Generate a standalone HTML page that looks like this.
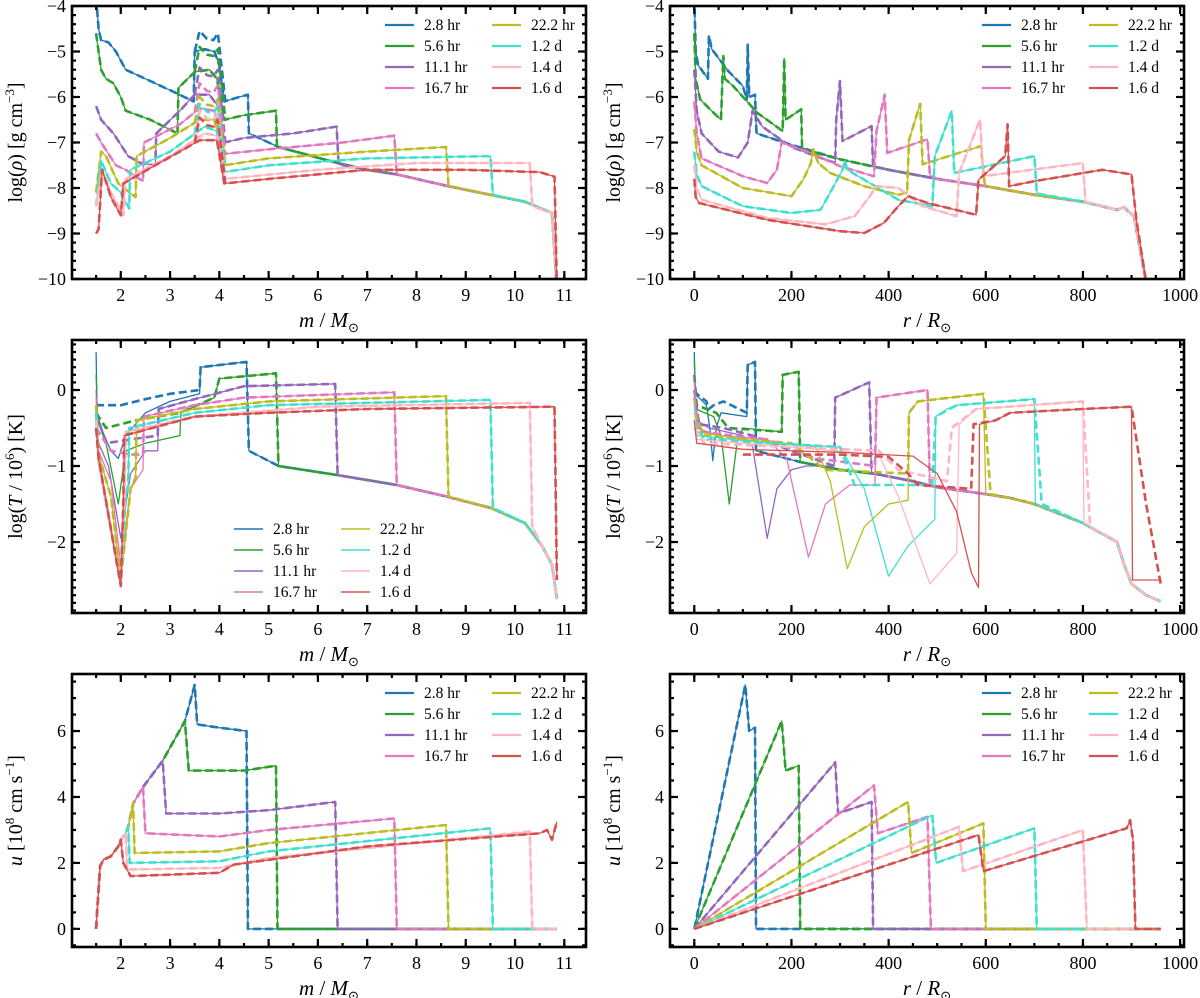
<!DOCTYPE html>
<html><head><meta charset="utf-8"><style>
html,body{margin:0;padding:0;background:#fff;}
svg{display:block;font-family:"Liberation Serif",serif;}
</style></head><body>
<svg id="fig" width="1200" height="998" viewBox="0 0 1200 998" xmlns="http://www.w3.org/2000/svg"></svg>
<script>
// ---------- data ----------
const seriesLabels = ["2.8 hr","5.6 hr","11.1 hr","16.7 hr","22.2 hr","1.2 d","1.4 d","1.6 d"];
const seriesColors = ["#1f77b4","#2ca02c","#9467bd","#e377c2","#bcbd22","#40e0d0","#ffb6c1","#d65050"];

// Panel A: log rho vs m
const envA = [[4.6,-6.8],[5.2,-7.1],[6.4,-7.45],[7.0,-7.6],[7.6,-7.7],[8.6,-7.95],[9.5,-8.15],[10.2,-8.3],[10.75,-8.55],[10.85,-10.2]];
const rhoM = [
 [[1.5,-3.8],[1.55,-4.5],[1.6,-4.75],[1.75,-4.8],[1.9,-5.0],[2.1,-5.4],[2.5,-5.6],[3.0,-5.85],[3.48,-6.1],[3.5,-5.0],[3.7,-4.95],[3.9,-5.0],[4.0,-5.3],[4.1,-6.1],[4.4,-6.0],[4.58,-5.95],[4.6,-6.8]],
 [[1.5,-4.6],[1.55,-5.0],[1.6,-5.4],[1.7,-5.6],[1.85,-5.7],[2.0,-6.0],[2.1,-6.3],[2.6,-6.5],[3.15,-6.8],[3.17,-5.8],[3.5,-5.45],[3.8,-5.4],[3.95,-5.6],[4.1,-6.5],[4.5,-6.4],[5.15,-6.3],[5.17,-7.12]],
 [[1.5,-6.2],[1.6,-6.5],[1.85,-6.8],[2.15,-7.3],[2.4,-7.45],[2.7,-7.5],[2.72,-6.8],[3.2,-6.3],[3.5,-5.95],[3.8,-5.95],[3.97,-6.2],[4.1,-7.0],[4.5,-6.9],[5.5,-6.8],[6.38,-6.65],[6.42,-7.48]],
 [[1.5,-6.8],[1.6,-7.0],[1.9,-7.5],[2.1,-7.6],[2.45,-7.85],[2.47,-7.0],[3.2,-6.6],[3.6,-6.25],[3.9,-6.3],[4.1,-7.25],[5,-7.15],[6.5,-7.0],[7.55,-6.85],[7.6,-7.7]],
 [[1.5,-8.1],[1.6,-7.2],[1.7,-7.3],[1.95,-7.9],[2.3,-8.2],[2.32,-7.3],[3.0,-6.9],[3.6,-6.5],[3.9,-6.5],[4.1,-7.5],[5,-7.35],[7,-7.2],[8.6,-7.1],[8.65,-7.95]],
 [[1.5,-8.4],[1.6,-7.4],[1.8,-7.9],[2.0,-8.1],[2.17,-8.45],[2.19,-7.6],[3,-7.2],[3.7,-6.65],[3.95,-6.75],[4.1,-7.65],[5,-7.5],[7,-7.35],[9.5,-7.3],[9.55,-8.15]],
 [[1.5,-8.4],[1.62,-7.6],[1.8,-8.1],[2.05,-8.6],[2.1,-7.8],[3,-7.3],[3.7,-6.8],[3.95,-6.85],[4.1,-7.8],[6,-7.6],[8,-7.45],[10.3,-7.45],[10.35,-8.4]],
 [[1.5,-9.0],[1.55,-8.9],[1.62,-7.6],[1.8,-8.2],[2.0,-8.6],[2.05,-7.9],[2.7,-7.5],[3.2,-7.2],[3.6,-6.95],[3.95,-6.95],[4.1,-7.9],[5,-7.8],[7,-7.6],[9,-7.6],[10.5,-7.65],[10.8,-7.75],[10.85,-10.2]]
];
const rhoMDashPeak = [-4.75,-5.1,-5.55,-5.9,-6.2,-6.35,-6.5,-6.65];

// Panel B: log rho vs r
const envB = [[128,-6.8],[200,-7.05],[300,-7.37],[400,-7.6],[500,-7.8],[600,-7.96],[700,-8.15],[800,-8.3],[870,-8.48],[885,-8.42],[892,-8.5],[905,-8.62],[932,-10.2]];
const rhoR = [
 [[0,-3.8],[3,-5.0],[8,-5.3],[28,-5.6],[30,-4.65],[36,-4.95],[70,-5.43],[100,-5.76],[108,-6.05],[110,-4.85],[113,-6.0],[125,-5.95],[128,-6.8]],
 [[0,-4.6],[3,-5.6],[12,-6.05],[40,-6.35],[55,-6.5],[58,-5.55],[60,-5.1],[63,-5.6],[80,-5.76],[130,-6.35],[182,-6.75],[185,-5.15],[188,-6.5],[220,-6.27],[222,-7.15]],
 [[0,-5.4],[5,-6.3],[15,-6.8],[50,-7.2],[90,-7.33],[110,-7.0],[120,-6.3],[140,-6.65],[200,-7.1],[250,-7.3],[290,-7.45],[292,-6.5],[300,-5.65],[305,-6.97],[365,-6.64],[368,-7.52]],
 [[0,-6.1],[5,-6.8],[15,-7.35],[100,-7.74],[150,-7.89],[170,-7.6],[180,-7.0],[240,-7.23],[300,-7.52],[370,-7.74],[375,-6.75],[392,-5.95],[397,-7.23],[480,-6.93],[485,-7.72]],
 [[0,-6.7],[5,-7.2],[15,-7.5],[100,-8.0],[200,-8.18],[225,-7.8],[240,-7.45],[245,-7.15],[255,-7.45],[280,-7.67],[350,-7.96],[420,-8.15],[438,-8.1],[442,-6.95],[465,-6.15],[470,-7.48],[590,-7.08],[598,-7.93]],
 [[0,-7.2],[5,-7.7],[15,-7.96],[100,-8.4],[200,-8.55],[260,-8.48],[290,-7.9],[305,-7.6],[310,-7.4],[315,-7.6],[350,-7.82],[420,-8.26],[490,-8.4],[495,-7.3],[530,-6.3],[535,-7.67],[700,-7.3],[705,-8.12]],
 [[0,-7.5],[5,-8.0],[15,-8.26],[150,-8.66],[270,-8.8],[330,-8.62],[360,-8.2],[375,-7.96],[420,-8.0],[470,-8.4],[540,-8.62],[545,-7.67],[588,-6.5],[595,-7.74],[800,-7.45],[805,-8.3]],
 [[0,-7.8],[3,-8.2],[10,-8.33],[150,-8.7],[300,-8.95],[350,-8.99],[390,-8.77],[420,-8.4],[440,-8.18],[480,-8.33],[580,-8.59],[585,-7.82],[640,-7.3],[645,-6.6],[648,-7.96],[700,-7.85],[840,-7.6],[900,-7.7],[910,-8.7],[932,-10.2]]
];

// Panel C: log T vs m
const envC = [[4.6,-0.8],[5.2,-1.0],[6.4,-1.12],[7.6,-1.25],[8.6,-1.4],[9.5,-1.55],[10.2,-1.75],[10.55,-2.05],[10.75,-2.3],[10.85,-2.75]];
const tempM = [
 [[1.5,0.5],[1.52,-0.3],[1.6,-0.5],[1.8,-0.8],[1.95,-0.9],[2.1,-0.6],[2.5,-0.3],[3,-0.15],[3.6,-0.05],[3.62,0.3],[4.55,0.37],[4.6,-0.8]],
 [[1.5,0.2],[1.53,-0.4],[1.7,-0.7],[1.95,-1.5],[2.1,-0.8],[2.5,-0.7],[3.2,-0.6],[3.22,-0.3],[3.9,-0.1],[4.0,0.15],[5.15,0.22],[5.2,-1.0]],
 [[1.5,0.0],[1.55,-0.7],[1.75,-1.0],[2.0,-1.95],[2.2,-1.1],[2.5,-0.8],[2.75,-0.8],[2.77,-0.25],[3.5,-0.12],[4.5,0.05],[6.35,0.08],[6.4,-1.12]],
 [[1.5,-0.1],[1.55,-0.8],[1.8,-1.2],[2.0,-2.3],[2.2,-1.3],[2.45,-1.05],[2.47,-0.35],[3.5,-0.2],[4.5,-0.1],[7.55,-0.03],[7.6,-1.25]],
 [[1.5,-0.2],[1.55,-0.85],[1.8,-1.4],[2.0,-2.5],[2.2,-1.3],[2.3,-1.15],[2.32,-0.4],[3.5,-0.25],[5,-0.15],[8.6,-0.08],[8.65,-1.4]],
 [[1.5,-0.3],[1.55,-0.9],[2.0,-2.55],[2.1,-1.4],[2.15,-1.25],[2.17,-0.5],[3.5,-0.3],[5,-0.2],[9.5,-0.13],[9.55,-1.55]],
 [[1.5,-0.4],[1.55,-0.95],[2.0,-2.55],[2.08,-1.4],[2.1,-0.55],[3.5,-0.35],[6,-0.22],[10.3,-0.17],[10.35,-1.8]],
 [[1.5,-0.5],[1.55,-0.9],[2.0,-2.58],[2.05,-1.5],[2.07,-0.6],[3.5,-0.35],[5,-0.3],[7,-0.25],[10.8,-0.22],[10.85,-2.5]]
];
const tempMDash = [
 [[1.5,-0.2],[2,-0.2],[2.5,-0.12],[3,-0.05],[3.6,0.0],[3.62,0.3],[4.55,0.37],[4.6,-0.8]],
 [[1.5,-0.3],[1.7,-0.5],[2.3,-0.4],[3.2,-0.3],[3.9,-0.1],[4.0,0.15],[5.15,0.22],[5.2,-1.0]],
 [[1.5,-0.3],[1.7,-0.7],[2.2,-0.65],[2.75,-0.6],[2.77,-0.25],[3.5,-0.12],[4.5,0.05],[6.35,0.08],[6.4,-1.12]],
 [[1.5,-0.5],[1.8,-0.8],[2.2,-0.85],[2.45,-0.85],[2.47,-0.35],[3.5,-0.2],[4.5,-0.1],[7.55,-0.03],[7.6,-1.25]],
 null,null,null,null
];

// Panel D: log T vs r
const envD = [[127,-0.8],[220,-0.95],[300,-1.05],[370,-1.1],[450,-1.2],[500,-1.28],[600,-1.37],[650,-1.42],[700,-1.5],[800,-1.75],[870,-2.0],[885,-2.3],[900,-2.55],[930,-2.7],[960,-2.78]];
const tempR = [
 [[0,0.5],[2,-0.05],[25,-0.2],[32,-0.5],[38,-0.93],[45,-0.5],[55,-0.3],[108,-0.35],[110,0.33],[125,0.37],[127,-0.8]],
 [[0,0.4],[3,-0.25],[40,-0.35],[55,-0.6],[72,-1.5],[88,-0.7],[100,-0.5],[180,-0.55],[182,0.2],[215,0.24],[218,-0.95]],
 [[0,0.2],[5,-0.4],[30,-0.5],[100,-0.6],[120,-0.75],[150,-1.95],[170,-1.3],[200,-1.05],[230,-1.0],[288,-1.0],[290,-0.1],[360,0.1],[365,-1.1]],
 [[0,0.1],[5,-0.5],[50,-0.6],[150,-0.65],[190,-0.9],[235,-2.2],[270,-1.5],[320,-1.25],[372,-1.25],[375,-0.1],[480,0.0],[485,-1.25]],
 [[0,-0.1],[5,-0.55],[100,-0.65],[250,-0.75],[280,-1.2],[315,-2.35],[350,-1.8],[400,-1.5],[440,-1.45],[442,-0.3],[460,-0.15],[595,-0.05],[600,-1.37]],
 [[0,-0.2],[5,-0.6],[150,-0.7],[300,-0.75],[350,-1.3],[400,-2.45],[440,-2.05],[495,-1.7],[497,-0.35],[520,-0.25],[540,-0.2],[700,-0.12],[702,-1.5]],
 [[0,-0.3],[5,-0.65],[200,-0.75],[380,-0.85],[420,-1.4],[485,-2.55],[540,-2.15],[545,-0.45],[580,-0.25],[800,-0.15],[802,-1.75]],
 [[0,-0.4],[5,-0.7],[100,-0.78],[300,-0.82],[450,-0.87],[500,-1.1],[540,-1.6],[570,-2.4],[585,-2.6],[587,-0.45],[620,-0.4],[650,-0.3],[800,-0.25],[900,-0.22],[902,-2.5],[960,-2.5]]
];
const tempRDash = [
 [[0,0.0],[5,-0.05],[25,-0.15],[30,-0.25],[40,-0.2],[60,-0.15],[108,-0.3],[110,0.33],[125,0.37],[127,-0.8]],
 [[0,0.2],[5,-0.2],[45,-0.3],[70,-0.5],[180,-0.55],[182,0.2],[215,0.24],[218,-0.95]],
 [[0,0.0],[10,-0.45],[60,-0.5],[120,-0.6],[200,-0.8],[288,-1.0],[290,-0.1],[360,0.1],[365,-1.1]],
 [[0,-0.1],[10,-0.55],[150,-0.65],[250,-0.9],[372,-1.0],[375,-0.1],[480,0.0],[485,-1.25]],
 [[0,-0.3],[20,-0.6],[200,-0.7],[270,-1.05],[440,-1.1],[442,-0.3],[460,-0.15],[595,-0.05],[610,-1.37]],
 [[0,-0.4],[20,-0.65],[300,-0.75],[330,-1.25],[490,-1.25],[497,-0.35],[540,-0.2],[700,-0.12],[715,-1.5]],
 [[0,-0.5],[20,-0.7],[380,-0.8],[420,-1.05],[520,-1.2],[530,-0.5],[580,-0.25],[800,-0.15],[815,-1.8]],
 [[100,-0.85],[300,-0.85],[400,-0.88],[440,-1.1],[460,-1.25],[570,-1.3],[575,-0.45],[620,-0.4],[650,-0.3],[800,-0.25],[900,-0.22],[930,-1.5],[960,-2.55]]
];

// Panel E: u vs m
const riseE = [[1.5,0],[1.52,0.5],[1.58,1.9],[1.65,2.1],[1.8,2.2],[1.95,2.5],[2.0,2.7],[2.1,2.9],[2.15,3.1],[2.25,3.8],[2.45,4.3],[2.85,5.1],[3.3,6.3],[3.5,7.4]];
const velM = [
 [[3.5,7.4],[3.55,6.2],[4,6.1],[4.55,6.0],[4.58,0],[10.85,0]],
 [[3.3,6.3],[3.38,4.8],[4.5,4.8],[5.15,4.95],[5.18,0],[10.85,0]],
 [[2.85,5.1],[2.92,3.5],[4,3.5],[5,3.6],[6.35,3.85],[6.4,0],[10.85,0]],
 [[2.45,4.3],[2.5,2.9],[4,2.8],[5,3.0],[7.55,3.35],[7.6,0],[10.85,0]],
 [[2.25,3.8],[2.28,2.3],[4,2.35],[5,2.6],[8.6,3.15],[8.65,0],[10.85,0]],
 [[2.15,3.1],[2.18,2.0],[4,2.05],[5,2.35],[9.5,3.05],[9.55,0],[10.85,0]],
 [[2.1,2.9],[2.13,1.8],[4,1.85],[5,2.15],[10.3,2.95],[10.35,0],[10.85,0]],
 [[2.0,2.7],[2.05,2.0],[2.2,1.6],[4,1.7],[4.3,1.95],[7,2.5],[10.5,2.9],[10.65,3.0],[10.75,2.7],[10.85,3.25]]
];

// Panel F: u vs r
const velR = [
 [[0,0],[105,7.4],[113,6.0],[125,6.1],[127,0],[960,0]],
 [[0,0],[180,6.3],[188,4.8],[215,4.95],[218,0],[960,0]],
 [[0,0],[290,5.05],[296,3.5],[365,3.85],[368,0],[960,0]],
 [[0,0],[370,4.35],[378,2.9],[480,3.4],[487,0],[960,0]],
 [[0,0],[440,3.85],[447,2.3],[595,3.2],[600,0],[960,0]],
 [[0,0],[490,3.45],[498,2.0],[700,3.05],[705,0],[960,0]],
 [[0,0],[545,3.1],[553,1.75],[800,3.0],[808,0],[960,0]],
 [[0,0],[585,2.85],[595,1.75],[890,3.05],[897,3.3],[903,2.7],[908,0],[960,0]]
];

const mTicks = [2,3,4,5,6,7,8,9,10,11];
const rTicks = [0,200,400,600,800,1000];
const rhoTicks = [-10,-9,-8,-7,-6,-5,-4];
const tempTicks = [-2,-1,0];
const velTicks = [0,2,4,6];

// ---------- drawing ----------
const NS = "http://www.w3.org/2000/svg";
const svg = document.getElementById("fig");
function el(tag, attrs, parent){ const e=document.createElementNS(NS,tag); for(const k in attrs) e.setAttribute(k,attrs[k]); (parent||svg).appendChild(e); return e; }
function fmt(v){ return (v<0?"\u2212":"")+Math.abs(v); }
function interp(arr,x){ for(let i=1;i<arr.length;i++){ if(arr[i][0]>=x){ const a=arr[i-1],b=arr[i]; const t=(x-a[0])/((b[0]-a[0])||1); return a[1]+t*(b[1]-a[1]);} } return arr[arr.length-1][1]; }
function withTail(arr, env){ const lx=arr[arr.length-1][0]; return arr.concat(env.filter(p=>p[0]>lx)); }
function withHead(arr, head){ const fx=arr[0][0]; return head.filter(p=>p[0]<fx).concat(arr); }

function makePanel(name, box, xd, yd){
  const g = el("g",{});
  
  
  const sx = v => box.x0 + (v-xd[0])/(xd[1]-xd[0])*(box.x1-box.x0);
  const sy = v => box.y1 - (v-yd[0])/(yd[1]-yd[0])*(box.y1-box.y0);
  const id = "clip-"+name;
  const cp = el("clipPath",{id:id},g);
  el("rect",{x:box.x0,y:box.y0,width:box.x1-box.x0,height:box.y1-box.y0},cp);
  const plot = el("g",{"clip-path":"url(#"+id+")"},g);
  return {g, plot, sx, sy, box, xd, yd};
}
function drawLine(P, pts, color, dashed, name){
  const d = pts.map((p,i)=>(i?"L":"M")+P.sx(p[0]).toFixed(1)+","+P.sy(p[1]).toFixed(1)).join("");
  const path = el("path",{d:d,fill:"none",stroke:color,"stroke-width":dashed?2.6:1.3,"stroke-linejoin":"round","stroke-dasharray":dashed?"8,4":"none"},P.plot);
  
  
}
function drawAxes(P, xMaj, xMin, yMaj, yMin, xLabelHTML, yLabelParts){
  const b=P.box, g=P.g;
  const tg = el("g",{stroke:"#000","stroke-width":1.5},g);
  const xr=P.xd, yr=P.yd;
  function ticksX(vals,len){ vals.forEach(v=>{ if(v<xr[0]||v>xr[1]) return; const x=P.sx(v); el("line",{x1:x,x2:x,y1:b.y1,y2:b.y1-len},tg); el("line",{x1:x,x2:x,y1:b.y0,y2:b.y0+len},tg); }); }
  function ticksY(vals,len){ vals.forEach(v=>{ if(v<yr[0]-1e-9||v>yr[1]+1e-9) return; const y=P.sy(v); el("line",{x1:b.x0,x2:b.x0+len,y1:y,y2:y},tg); el("line",{x1:b.x1,x2:b.x1-len,y1:y,y2:y},tg); }); }
  const minX=[]; for(let v=Math.ceil(xr[0]/xMin)*xMin; v<=xr[1]; v+=xMin) minX.push(+v.toFixed(4));
  const minY=[]; for(let v=Math.ceil(yr[0]/yMin)*yMin; v<=yr[1]+1e-9; v+=yMin) minY.push(+v.toFixed(4));
  ticksX(minX,4); ticksY(minY,4);
  tg.setAttribute("stroke-width",2.2);
  const tg2 = el("g",{stroke:"#000","stroke-width":2.2},g);
  xMaj.forEach(v=>{ const x=P.sx(v); el("line",{x1:x,x2:x,y1:b.y1,y2:b.y1-8},tg2); el("line",{x1:x,x2:x,y1:b.y0,y2:b.y0+8},tg2);
    const t=el("text",{x:x,y:b.y1+22,"text-anchor":"middle","font-size":18,fill:"#000"},g); t.textContent=fmt(v);
      });
  yMaj.forEach(v=>{ const y=P.sy(v); el("line",{x1:b.x0,x2:b.x0+8,y1:y,y2:y},tg2); el("line",{x1:b.x1,x2:b.x1-8,y1:y,y2:y},tg2);
    const t=el("text",{x:b.x0-6,y:y+6,"text-anchor":"end","font-size":18,fill:"#000"},g); t.textContent=fmt(v);
      });
  const fr = el("rect",{x:b.x0,y:b.y0,width:b.x1-b.x0,height:b.y1-b.y0,fill:"none",stroke:"#000","stroke-width":2.6},g);
   
  const xl = el("text",{x:(b.x0+b.x1)/2,y:b.y1+48,"text-anchor":"middle","font-size":21,fill:"#000"},g);
  xl.innerHTML = xLabelHTML;
   
  const cy=(b.y0+b.y1)/2;
  const yl = el("text",{x:0,y:0,"text-anchor":"middle","font-size":20,fill:"#000",transform:"translate("+(b.x0-50)+","+cy+") rotate(-90)"},g);
  yl.innerHTML = yLabelParts;
   
}
function drawLegend(P, x, y, thick){
  const lg = el("g",{},P.g);
  
  
  seriesLabels.forEach((lab,i)=>{
    const col = i<4?0:1, row=i%4;
    const lx = x + col*107, ly = y + row*21;
    const e = el("g",{},lg);
    
    
    el("line",{x1:lx,x2:lx+29,y1:ly,y2:ly,stroke:seriesColors[i],"stroke-width":thick?2.2:1.6},e);
    const t = el("text",{x:lx+39,y:ly+5,"font-size":15.5,fill:"#000"},e); t.textContent = lab;
  });
}

const mDom=[1.01,11.44], rDom=[-50,1008];
const L={x0:72,x1:586}, R={x0:670,x1:1184};
const rowA={y0:6,y1:279}, rowB={y0:340,y1:613}, rowC={y0:674,y1:947};
const mLab = '<tspan font-style="italic">m</tspan> / <tspan font-style="italic">M</tspan><tspan font-size="13" dy="5">\u2299</tspan>';
const rLab = '<tspan font-style="italic">r</tspan> / <tspan font-style="italic">R</tspan><tspan font-size="13" dy="5">\u2299</tspan>';
const rhoLab = 'log(<tspan font-style="italic">\u03c1</tspan>) [g cm<tspan font-size="13" dy="-8">\u22123</tspan><tspan dy="8">]</tspan>';
const tLab = 'log(<tspan font-style="italic">T</tspan> / 10<tspan font-size="13" dy="-8">6</tspan><tspan dy="8">) [K]</tspan>';
const uLab = '<tspan font-style="italic">u</tspan> [10<tspan font-size="13" dy="-8">8</tspan><tspan dy="8"> cm s</tspan><tspan font-size="13" dy="-8">\u22121</tspan><tspan dy="8">]</tspan>';

// Panel A
const PA = makePanel("panel-density-mass",{...L,...rowA},mDom,[-10,-4]);
rhoM.forEach((s,i)=>{
  const full = withTail(s, envA);
  drawLine(PA, full, seriesColors[i], false, "density-mass-solid-"+i);
  drawLine(PA, full, seriesColors[i], true, "density-mass-dashed-"+i);
  const pk = rhoMDashPeak[i];
  drawLine(PA, [[3.5,interp(s,3.5)],[3.6,pk+0.2],[3.75,pk+0.03],[3.88,pk],[3.97,pk+0.15],[4.12,interp(s,4.12)]], seriesColors[i], true, "density-mass-dashed-peak-"+i);
});
drawAxes(PA, mTicks, 0.5, rhoTicks, 0.2, mLab, rhoLab);
drawLegend(PA, 385, 25, true);

// Panel B
const PB = makePanel("panel-density-radius",{...R,...rowA},rDom,[-10,-4]);
rhoR.forEach((s,i)=>{
  const full = withTail(s, envB);
  drawLine(PB, full, seriesColors[i], false, "density-radius-solid-"+i);
  drawLine(PB, full, seriesColors[i], true, "density-radius-dashed-"+i);
});
drawAxes(PB, rTicks, 50, rhoTicks, 0.2, rLab, rhoLab);
drawLegend(PB, 982, 25, true);

// Panel C
const PC = makePanel("panel-temperature-mass",{...L,...rowB},mDom,[-2.934,0.658]);
tempM.forEach((s,i)=>{
  drawLine(PC, withTail(s, envC), seriesColors[i], false, "temperature-mass-solid-"+i);
  drawLine(PC, withTail(tempMDash[i]||s, envC), seriesColors[i], true, "temperature-mass-dashed-"+i);
});
drawAxes(PC, mTicks, 0.5, tempTicks, 0.1, mLab, tLab);
drawLegend(PC, 234, 529, false);

// Panel D
const PD = makePanel("panel-temperature-radius",{...R,...rowB},rDom,[-2.934,0.658]);
tempR.forEach((s,i)=>{
  drawLine(PD, withTail(s, envD), seriesColors[i], false, "temperature-radius-solid-"+i);
  drawLine(PD, withTail(tempRDash[i]||s, envD), seriesColors[i], true, "temperature-radius-dashed-"+i);
});
drawAxes(PD, rTicks, 50, tempTicks, 0.1, rLab, tLab);

// Panel E
const PE = makePanel("panel-velocity-mass",{...L,...rowC},mDom,[-0.55,7.73]);
velM.forEach((s,i)=>{
  const full = withHead(s, riseE);
  drawLine(PE, full, seriesColors[i], false, "velocity-mass-solid-"+i);
  drawLine(PE, full, seriesColors[i], true, "velocity-mass-dashed-"+i);
});
drawAxes(PE, mTicks, 0.5, velTicks, 0.5, mLab, uLab);
drawLegend(PE, 385, 693, true);

// Panel F
const PF = makePanel("panel-velocity-radius",{...R,...rowC},rDom,[-0.55,7.73]);
velR.forEach((s,i)=>{
  drawLine(PF, s, seriesColors[i], false, "velocity-radius-solid-"+i);
  drawLine(PF, s, seriesColors[i], true, "velocity-radius-dashed-"+i);
});
drawAxes(PF, rTicks, 50, velTicks, 0.5, rLab, uLab);
drawLegend(PF, 982, 693, true);
</script>
</body></html>
